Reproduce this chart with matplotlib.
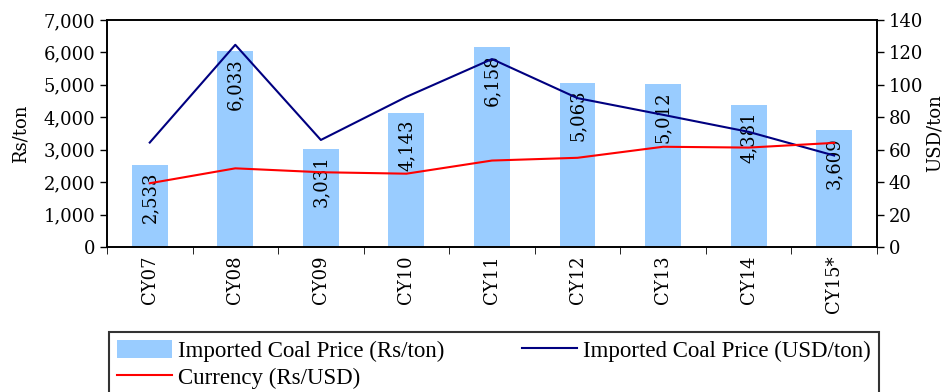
import matplotlib
matplotlib.use("Agg")
import matplotlib.pyplot as plt
from matplotlib.patches import Patch
from matplotlib.lines import Line2D
import numpy as np

# imported coal prices by calendar year
years = ["CY07", "CY08", "CY09", "CY10", "CY11", "CY12", "CY13", "CY14", "CY15*"]
price_rs = [2533, 6033, 3031, 4143, 6158, 5063, 5012, 4381, 3609]
price_usd = [64.4, 124.7, 66.0, 92.6, 115.9, 91.8, 81.5, 71.0, 56.4]
rs_per_usd = [39.3, 48.5, 46.1, 45.2, 53.3, 55.0, 61.8, 61.3, 64.2]

plt.rcParams['font.family'] = ['DejaVu Serif']
plt.rcParams['font.size'] = 13

fig = plt.figure(figsize=(9.5, 3.92), dpi=100)
ax = fig.add_axes([0.1126, 0.370, 0.8105, 0.579])
ax2 = ax.twinx()

x = np.arange(len(years))
bars = ax.bar(x, price_rs, width=0.42, color='#99CCFF', zorder=1)
ax.set_xlim(-0.5, len(years) - 0.5)
ax.set_ylim(0, 7000)
ax.set_yticks(np.arange(0, 7001, 1000))
ax.set_yticklabels(["{:,}".format(v) for v in range(0, 7001, 1000)])
ax.set_ylabel("Rs/ton", labelpad=10)

# value labels sit inside the top of each bar
for xi, v in zip(x, price_rs):
    ax.annotate("{:,}".format(v), (xi, v), xytext=(0, -5), textcoords='offset points',
                rotation=90, ha='center', va='top', fontsize=13, zorder=5)

# category ticks fall between the bars
ax.set_xticks(x)
ax.set_xticklabels(years, rotation=90)
ax.tick_params(axis='x', length=0, pad=6)
ax.set_xticks(np.arange(-0.5, len(years), 1.0), minor=True)
ax.tick_params(axis='x', which='minor', length=5, direction='out')

ax2.plot(x, price_usd, color='#000080', lw=1.5, zorder=3)
ax2.plot(x, rs_per_usd, color='#FF0000', lw=1.5, zorder=3)
ax2.set_ylim(0, 140)
ax2.set_yticks(np.arange(0, 141, 20))
ax2.set_ylabel("USD/ton", rotation=90, labelpad=2)

for a in (ax, ax2):
    for s in a.spines.values():
        s.set_linewidth(1.2)
    a.tick_params(axis='y', length=5, width=1, direction='out')

handles = [Patch(facecolor='#99CCFF', edgecolor='none'),
           Line2D([], [], color='#000080', lw=1.5),
           Line2D([], [], color='#FF0000', lw=1.5)]
labels = ["Imported Coal Price (Rs/ton)", "Imported Coal Price (USD/ton)", "Currency (Rs/USD)"]
# reorder so the currency entry lands under the first column
leg = fig.legend([handles[0], handles[2], handles[1]], [labels[0], labels[2], labels[1]],
                 loc='upper left', bbox_to_anchor=(0.1147, -0.05, 0.8105, 0.203),
                 mode='expand', ncol=2, frameon=True, fancybox=False,
                 edgecolor='black', handlelength=2.4, handleheight=0.8,
                 handletextpad=0.25, borderpad=0.35, borderaxespad=0,
                 labelspacing=0.22,
                 prop={'family': 'Liberation Serif', 'size': 16.5})
leg.get_frame().set_linewidth(1.5)

fig.savefig("out.png", dpi=100)
